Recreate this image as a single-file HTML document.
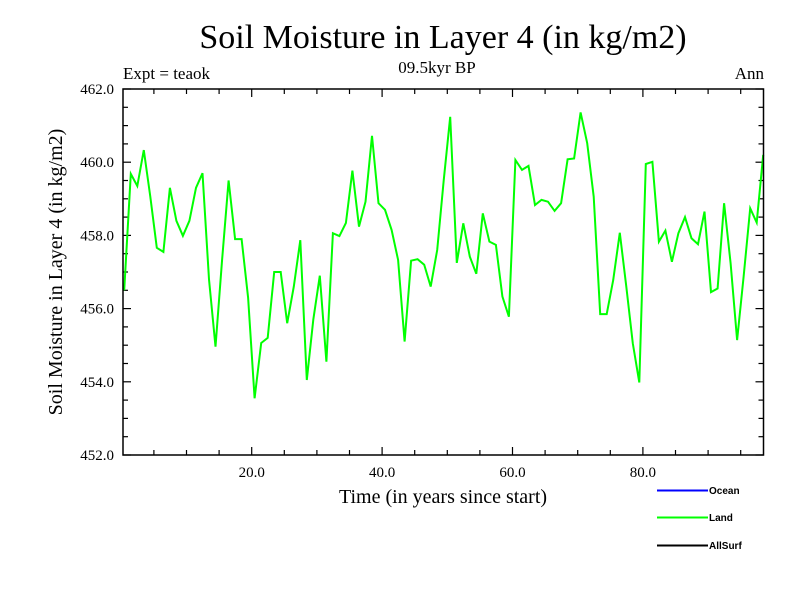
<!DOCTYPE html>
<html><head><meta charset="utf-8"><style>
body{margin:0;background:#fff;width:800px;height:600px;overflow:hidden}
svg{display:block}
text{font-family:"Liberation Serif",serif;fill:#000}
text.leg{font-family:"Liberation Sans",sans-serif;font-size:10px;font-weight:bold}
</style></head><body>
<svg id="chart" width="800" height="600" viewBox="0 0 800 600">
<text x="443" y="48" font-size="34" text-anchor="middle">Soil Moisture in Layer 4 (in kg/m2)</text>
<text x="437" y="73" font-size="17" text-anchor="middle">09.5kyr BP</text>
<text x="123" y="79" font-size="17">Expt = teaok</text>
<text x="764" y="79" font-size="17" text-anchor="end">Ann</text>
<text x="443" y="503" font-size="20" text-anchor="middle">Time (in years since start)</text>
<text transform="translate(62,272) rotate(-90)" font-size="20" text-anchor="middle">Soil Moisture in Layer 4 (in kg/m2)</text>
<g id="axes"></g>
<g id="series"></g>
<rect x="123" y="89" width="640.5" height="366" fill="none" stroke="#000" stroke-width="1.5"/>
<g>
<g><line x1="657" y1="490.5" x2="708" y2="490.5" stroke="#0000ff" stroke-width="2"/><text class="leg" x="709" y="494">Ocean</text></g>
<g><line x1="657" y1="517.5" x2="708" y2="517.5" stroke="#00ff00" stroke-width="2"/><text class="leg" x="709" y="521">Land</text></g>
<g><line x1="657" y1="545.5" x2="708" y2="545.5" stroke="#000" stroke-width="2"/><text class="leg" x="709" y="549">AllSurf</text></g>
</g>
</svg>
<script>
const landValues = [456.5,459.68,459.35,460.33,459.06,457.66,457.55,459.3,458.4,457.99,458.4,459.3,459.7,456.8,454.96,457.3,459.5,457.9,457.9,456.3,453.55,455.06,455.2,457.0,457.0,455.6,456.6,457.87,454.05,455.7,456.9,454.55,458.06,457.98,458.34,459.77,458.24,458.92,460.72,458.88,458.7,458.15,457.33,455.1,457.31,457.35,457.2,456.6,457.6,459.5,461.24,457.25,458.33,457.42,456.95,458.6,457.83,457.74,456.33,455.78,460.06,459.79,459.9,458.83,458.97,458.92,458.67,458.88,460.08,460.1,461.36,460.52,459.06,455.85,455.85,456.78,458.07,456.6,455.05,453.98,459.95,460.01,457.83,458.13,457.28,458.06,458.5,457.92,457.76,458.65,456.45,456.55,458.88,457.24,455.14,456.87,458.74,458.35,460.2];
const yearOffset = 0.45;
const xTickLabels = [20,40,60,80];
const yTickLabels = [452,454,456,458,460,462];
const X0=121.3, XS=6.52, Y0=89, YS=36.6, XL=123, XR=763.5, YT=89, YB=455;
function xs(t){return X0+XS*t;}
function ys(v){return Y0+(462-v)*YS;}
const NS="http://www.w3.org/2000/svg";
const axes=document.getElementById('axes');
function ln(x1,y1,x2,y2,name){const l=document.createElementNS(NS,'line');l.setAttribute('x1',x1);l.setAttribute('y1',y1);l.setAttribute('x2',x2);l.setAttribute('y2',y2);l.setAttribute('stroke','#000');l.setAttribute('stroke-width','1.2');


axes.appendChild(l);}
for(let t=5;t<98.5;t+=5){const x=xs(t);const L=(t%20===0)?8:5;ln(x,YB,x,YB-L,'x-tick');ln(x,YT,x,YT+L,'x-tick-top');}
for(let v=452;v<=462.001;v+=0.5){const y=ys(v);const L=(Math.abs(v-Math.round(v/2)*2)<1e-6)?8:5;ln(XL,y,XL+L,y,'y-tick');ln(XR,y,XR-L,y,'y-tick-right');}
xTickLabels.forEach(t=>{const e=document.createElementNS(NS,'text');e.setAttribute('x',xs(t));e.setAttribute('y',477);e.setAttribute('font-size','15');e.setAttribute('text-anchor','middle');e.textContent=t.toFixed(1);


axes.appendChild(e);});
yTickLabels.forEach(v=>{const e=document.createElementNS(NS,'text');e.setAttribute('x',114);e.setAttribute('y',ys(v)+5);e.setAttribute('font-size','15');e.setAttribute('text-anchor','end');e.textContent=v.toFixed(1);


axes.appendChild(e);});
const pts=landValues.map((v,i)=>Math.min(XR,xs(i+yearOffset)).toFixed(1)+','+ys(v).toFixed(1)).join(' ');
const pl=document.createElementNS(NS,'polyline');pl.setAttribute('points',pts);pl.setAttribute('fill','none');pl.setAttribute('stroke','#00ff00');pl.setAttribute('stroke-width','2');


document.getElementById('series').appendChild(pl);
</script>
</body></html>
